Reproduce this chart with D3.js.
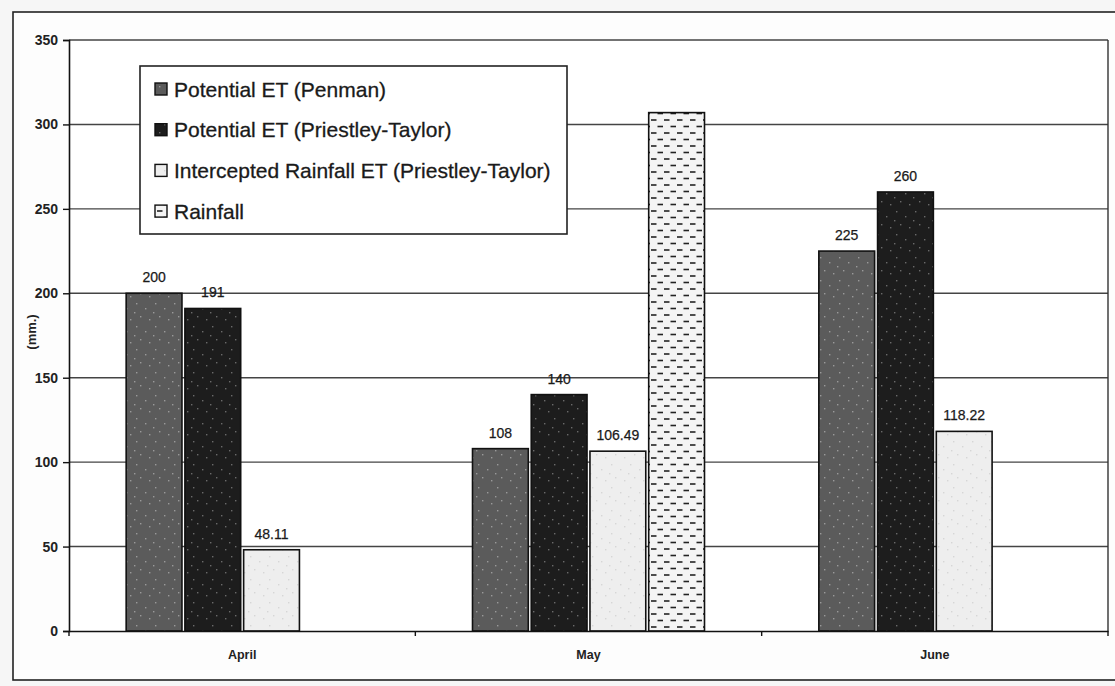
<!DOCTYPE html>
<html>
<head>
<meta charset="utf-8">
<script src="https://cdn.jsdelivr.net/npm/d3@7"></script>
<style>
  html, body { margin: 0; padding: 0; background: #f6f6f6; }
  svg { display: block; font-family: "Liberation Sans", Arial, sans-serif; }
</style>
</head>
<body>
<svg id="chart" width="1115" height="686"></svg>
<script>
// ---- data ----
const months = ["April", "May", "June"];
const seriesNames = [
  "Potential ET (Penman)",
  "Potential ET (Priestley-Taylor)",
  "Intercepted Rainfall ET (Priestley-Taylor)",
  "Rainfall"
];
const penman = [200, 108, 225];
const priestleyTaylor = [191, 140, 260];
const interceptedRainfall = [48.11, 106.49, 118.22];
const rainfall = [null, 307, null];
const yTicks = [0, 50, 100, 150, 200, 250, 300, 350];
const yLabel = "(mm.)";

const seriesValues = [penman, priestleyTaylor, interceptedRainfall, rainfall];
const showLabel = [true, true, true, false];
const labelFormat = [d3.format("d"), d3.format("d"), d3.format(".2f"), d3.format("d")];

// ---- layout ----
const svg = d3.select("#chart");
const plotL = 69, plotR = 1108, plotT = 40, plotB = 631;

// patterns
const defs = svg.append("defs");
function speckle(id, base, dot) {
  const p = defs.append("pattern").attr("id", id).attr("patternUnits", "userSpaceOnUse")
    .attr("width", 19).attr("height", 23);
  p.append("rect").attr("width", 19).attr("height", 23).attr("fill", base);
  [[3, 4], [12, 9], [7, 17], [16, 20], [1, 13]].forEach(([cx, cy]) =>
    p.append("rect").attr("x", cx).attr("y", cy).attr("width", 1.4).attr("height", 1.4).attr("fill", dot));
  return "url(#" + id + ")";
}
const fillPenman = speckle("pPen", "#5b5b5b", "#9a9a9a");
const fillPT = speckle("pPT", "#1d1d1d", "#6a6a6a");
const fillInt = speckle("pInt", "#eeeeee", "#d6d6d6");
const rp = defs.append("pattern").attr("id", "pRain").attr("patternUnits", "userSpaceOnUse")
  .attr("width", 13).attr("height", 13);
rp.append("rect").attr("width", 13).attr("height", 13).attr("fill", "#f4f4f4");
rp.append("line").attr("x1", 1).attr("x2", 6.5).attr("y1", 3).attr("y2", 3).attr("stroke", "#222").attr("stroke-width", 1.6);
rp.append("line").attr("x1", 7.5).attr("x2", 13).attr("y1", 9.5).attr("y2", 9.5).attr("stroke", "#222").attr("stroke-width", 1.6);
const fills = [fillPenman, fillPT, fillInt, "url(#pRain)"];

// outer border
svg.append("rect").attr("x", 13).attr("y", 12).attr("width", 1110).attr("height", 668)
  .attr("fill", "#fdfdfd").attr("stroke", "#222").attr("stroke-width", 1.6);

const y = d3.scaleLinear().domain([0, 350]).range([plotB, plotT]);
const x0 = d3.scaleBand().domain(months).range([plotL, plotR]).padding(0);
const groupW = 232;
const x1 = d3.scaleBand().domain(d3.range(seriesNames.length)).range([0, groupW]).paddingInner(0.05);

// plot area background
svg.append("rect").attr("x", plotL).attr("y", plotT).attr("width", plotR - plotL).attr("height", plotB - plotT)
  .attr("fill", "#ffffff");

// gridlines
svg.append("g").selectAll("line").data(yTicks.filter(t => t > 0)).join("line")
  .attr("x1", plotL).attr("x2", plotR)
  .attr("y1", d => y(d)).attr("y2", d => y(d))
  .attr("stroke", "#444").attr("stroke-width", 1.4);
svg.append("line").attr("x1", plotR).attr("x2", plotR).attr("y1", plotT).attr("y2", plotB)
  .attr("stroke", "#333").attr("stroke-width", 1.4);

// bars
months.forEach((m, i) => {
  const gx = x0(m) + (x0.bandwidth() - groupW) / 2;
  seriesValues.forEach((vals, s) => {
    const v = vals[i];
    if (v == null) return;
    svg.append("rect")
      .attr("x", gx + x1(s)).attr("y", y(v))
      .attr("width", x1.bandwidth()).attr("height", y(0) - y(v))
      .attr("fill", fills[s]).attr("stroke", "#111").attr("stroke-width", 1.6);
    if (showLabel[s]) {
      svg.append("text")
        .attr("x", gx + x1(s) + x1.bandwidth() / 2).attr("y", y(v) - 11)
        .attr("text-anchor", "middle").attr("font-size", 14).attr("fill", "#1a1a1a")
        .attr("stroke", "#1a1a1a").attr("stroke-width", 0.25)
        .text(labelFormat[s](v));
    }
  });
});

// y axis
const yAxis = svg.append("g").attr("transform", `translate(${plotL},0)`)
  .call(d3.axisLeft(y).tickValues(yTicks).tickSize(6).tickPadding(5).tickFormat(d3.format("d")));
yAxis.select(".domain").attr("stroke", "#111").attr("stroke-width", 1.6);
yAxis.selectAll(".tick line").attr("stroke", "#111").attr("stroke-width", 1.4);
yAxis.selectAll(".tick text").attr("font-size", 14).attr("font-weight", "bold")
  .attr("font-family", "Liberation Sans, Arial, sans-serif").attr("fill", "#222");

// x axis
const xAxis = svg.append("g").attr("transform", `translate(0,${plotB})`)
  .call(d3.axisBottom(x0).tickSize(0).tickPadding(19));
xAxis.select(".domain").attr("stroke", "#111").attr("stroke-width", 1.6);
xAxis.selectAll(".tick text").attr("font-size", 12.5).attr("font-weight", "bold")
  .attr("font-family", "Liberation Sans, Arial, sans-serif").attr("fill", "#222");
const boundaries = months.map(m => x0(m)).concat([x0(months[months.length - 1]) + x0.bandwidth()]);
svg.append("g").selectAll("line").data(boundaries).join("line")
  .attr("x1", d => d).attr("x2", d => d).attr("y1", plotB).attr("y2", plotB + 5)
  .attr("stroke", "#111").attr("stroke-width", 1.4);

// y label
svg.append("text").attr("transform", "translate(36,332) rotate(-90)")
  .attr("text-anchor", "middle").attr("font-size", 13).attr("font-weight", "bold").attr("fill", "#222")
  .text(yLabel);

// legend
const lg = svg.append("g");
lg.append("rect").attr("x", 140).attr("y", 66).attr("width", 427).attr("height", 168)
  .attr("fill", "#fff").attr("stroke", "#222").attr("stroke-width", 1.6);
seriesNames.forEach((name, s) => {
  const cy = 89 + s * 40.7;
  lg.append("rect").attr("x", 155).attr("y", cy - 6).attr("width", 12).attr("height", 12)
    .attr("fill", fills[s]).attr("stroke", "#111").attr("stroke-width", 1.4);
  lg.append("text").attr("x", 174).attr("y", cy).attr("dy", "0.36em")
    .attr("font-size", 21).attr("fill", "#1a1a1a")
    .attr("stroke", "#1a1a1a").attr("stroke-width", 0.3)
    .text(name);
});
</script>
</body>
</html>
